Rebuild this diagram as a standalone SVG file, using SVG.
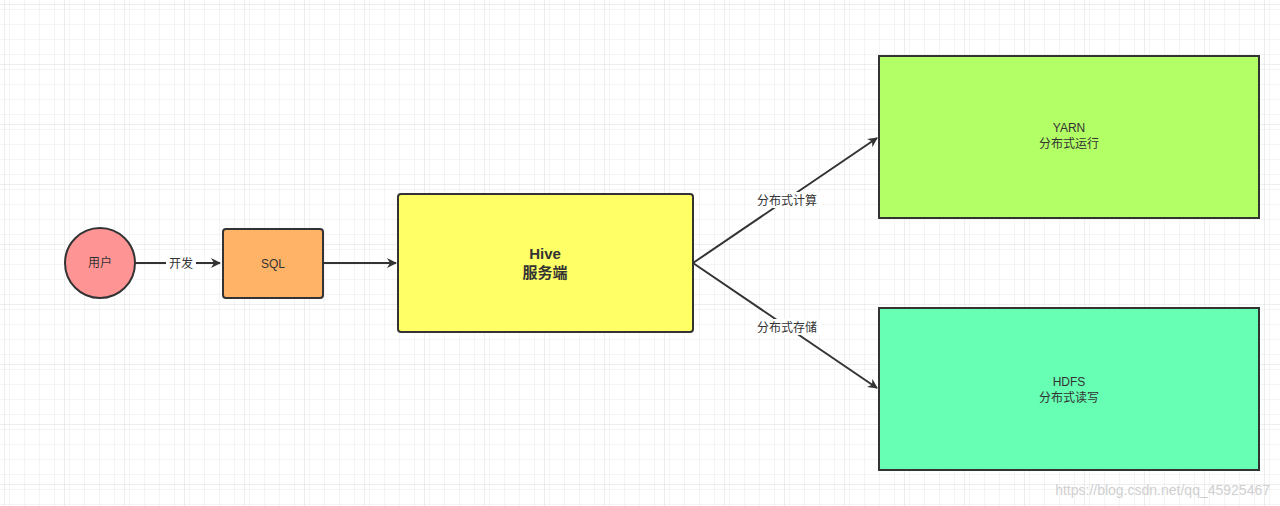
<svg xmlns="http://www.w3.org/2000/svg" width="1280" height="506" viewBox="0 0 1280 506">
<defs>
<pattern id="g" width="15" height="15" patternUnits="userSpaceOnUse" x="5" y="5"><path d="M15 0V15M0 15H15" fill="none" stroke="#e8e8e8" stroke-width="1"/></pattern>
<pattern id="G" width="60" height="60" patternUnits="userSpaceOnUse" x="5" y="5"><rect width="60" height="60" fill="url(#g)"/><path d="M60 0V60M0 60H60" fill="none" stroke="#dcdcdc" stroke-width="1"/></pattern>
<marker id="a" viewBox="0 0 10 10" refX="9" refY="5" markerWidth="10" markerHeight="10" markerUnits="userSpaceOnUse" orient="auto"><path d="M0 0L10 5L0 10L3 5Z" fill="#333"/></marker>
</defs>
<style>
.n{stroke:#333;stroke-width:2}
.t{font-family:"Liberation Sans","Noto Sans CJK SC",sans-serif;font-size:12px;fill:#333;text-anchor:middle}
.e{stroke:#333;stroke-width:2;fill:none;marker-end:url(#a)}
.l{font-family:"Liberation Sans","Noto Sans CJK SC",sans-serif;font-size:12px;fill:#333;text-anchor:middle}
</style>
<rect width="1280" height="506" fill="#fff"/>
<rect width="1280" height="506" fill="url(#G)"/>
<g id="connectors">
<path class="e" d="M135 263H220"/>
<rect x="166" y="255" width="30" height="16" fill="#fff"/>
<text class="l" x="181" y="268">开发</text>
<path class="e" d="M323 263H396"/>
<path class="e" d="M693 263L877 138"/>
<rect x="752" y="192" width="70" height="16" fill="#fff"/>
<text class="l" x="787" y="205">分布式计算</text>
<path class="e" d="M693 263L877 388"/>
<rect x="752" y="319" width="70" height="16" fill="#fff"/>
<text class="l" x="787" y="332">分布式存储</text>
</g>
<g id="user"><circle class="n" cx="100" cy="263" r="35" fill="#ff9494"/><text class="t" x="100" y="267">用户</text></g>
<g id="sql"><rect class="n" x="223" y="229" width="100" height="69" rx="3" fill="#ffb366"/><text class="t" x="273" y="268">SQL</text></g>
<g id="hive"><rect class="n" x="398" y="194" width="295" height="138" rx="3" fill="#ffff66"/><text class="t" x="545" y="259" style="font-weight:bold;font-size:15px">Hive</text><text class="t" x="545" y="278" style="font-weight:bold;font-size:15px">服务端</text></g>
<g id="yarn"><rect class="n" x="879" y="56" width="380" height="162" fill="#b3ff66"/><text class="t" x="1069" y="132">YARN</text><text class="t" x="1069" y="148">分布式运行</text></g>
<g id="hdfs"><rect class="n" x="879" y="308" width="380" height="162" fill="#66ffb3"/><text class="t" x="1069" y="386">HDFS</text><text class="t" x="1069" y="402">分布式读写</text></g>
<text x="1270" y="495" style="font-family:'Liberation Sans',sans-serif;font-size:14px;fill:#d0d0d0;text-anchor:end">https://blog.csdn.net/qq_45925467</text>
</svg>
